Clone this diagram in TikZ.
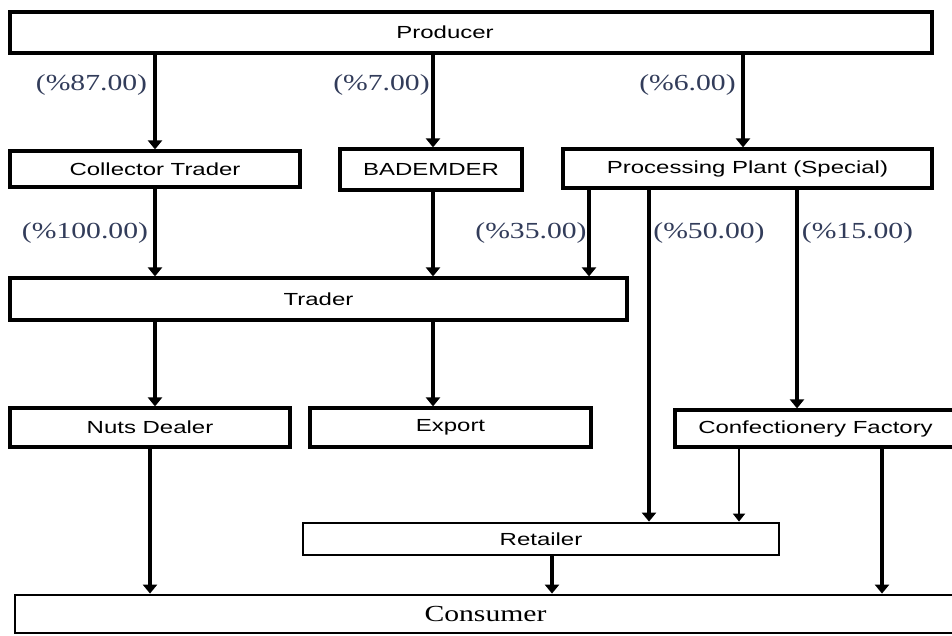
\documentclass[tikz,border=0pt]{standalone}
\usepackage{fontspec}
\usetikzlibrary{arrows.meta}
\newfontfamily\boxfont[FakeStretch=1.37]{Liberation Sans}
\newfontfamily\labfont[FakeStretch=1.29]{Liberation Serif}
\definecolor{labcol}{RGB}{50,60,90}
\begin{document}
\begin{tikzpicture}[x=1pt,y=-1pt,
  box/.style={draw=black, line width=3.2pt, inner sep=0pt, fill=white,
    font=\boxfont\fontsize{17.5}{20}\selectfont},
  arr/.style={line width=3.5pt, -{Triangle[width=14pt,length=9pt]}},
  thinarr/.style={line width=1.8pt, -{Triangle[width=12pt,length=8pt]}},
  lab/.style={inner sep=0pt, text=labcol, font=\labfont\fontsize{23}{26}\selectfont}]
\useasboundingbox (0,0) rectangle (952,635);

% boxes
\node[box, minimum width=922pt, minimum height=41pt] (prod) at (471,32.5) {\hspace*{-52pt}Producer};
\node[box, minimum width=290pt, minimum height=36pt] (coll) at (155,169) {Collector Trader};
\node[box, minimum width=182pt, minimum height=41pt] (badem) at (431,169.5) {BADEMDER};
\node[box, minimum width=369pt, minimum height=39pt] (proc) at (747.5,168.5) {Processing Plant (Special)};
\node[box, minimum width=617pt, minimum height=42pt] (trader) at (318.5,299) {Trader};
\node[box, minimum width=280pt, minimum height=39pt] (nuts) at (150,427.5) {Nuts Dealer};
\node[box, minimum width=281pt, minimum height=39pt] (export) at (450.5,427.5) {Export};
\node[box, minimum width=281pt, minimum height=37pt] (conf) at (815.5,428.5) {Confectionery Factory};
\node[box, line width=2.8pt, minimum width=476pt, minimum height=32pt] (ret) at (541,539) {Retailer};
\node[box, line width=2.8pt, minimum width=941pt, minimum height=38pt, font=\labfont\fontsize{23}{26}\selectfont] (cons) at (485.5,614) {Consumer};

% x positions of connectors
\coordinate (x1) at (155,0);
\coordinate (x2) at (433,0);
\coordinate (x3) at (743,0);
\coordinate (x4) at (589,0);
\coordinate (x5) at (649,0);
\coordinate (x6) at (797,0);
\coordinate (x7) at (150,0);
\coordinate (x8) at (739,0);
\coordinate (x9) at (882,0);
\coordinate (x10) at (552,0);

% connectors
\draw[arr] (prod.south -| x1) -- (coll.north -| x1);
\draw[arr] (prod.south -| x2) -- (badem.north -| x2);
\draw[arr] (prod.south -| x3) -- (proc.north -| x3);
\draw[arr] (coll.south -| x1) -- (trader.north -| x1);
\draw[arr] (badem.south -| x2) -- (trader.north -| x2);
\draw[arr] (proc.south -| x4) -- (trader.north -| x4);
\draw[arr] (proc.south -| x5) -- (ret.north -| x5);
\draw[arr] (proc.south -| x6) -- (conf.north -| x6);
\draw[arr] (trader.south -| x1) -- (nuts.north -| x1);
\draw[arr] (trader.south -| x2) -- (export.north -| x2);
\draw[arr] (nuts.south -| x7) -- (cons.north -| x7);
\draw[thinarr] (conf.south -| x8) -- (ret.north -| x8);
\draw[arr] (conf.south -| x9) -- (cons.north -| x9);
\draw[arr] (ret.south -| x10) -- (cons.north -| x10);

% labels
\node[lab] (l1) at (91.5,85) {(\%87.00)};
\node[lab] (l2) at (381.5,85) {(\%7.00)};
\node[lab] (l3) at (687.5,85) {(\%6.00)};
\node[lab] (l4) at (85,233) {(\%100.00)};
\node[lab] (l5) at (531,233) {(\%35.00)};
\node[lab] (l6) at (709,233) {(\%50.00)};
\node[lab] (l7) at (857.5,233) {(\%15.00)};
\end{tikzpicture}
\end{document}
